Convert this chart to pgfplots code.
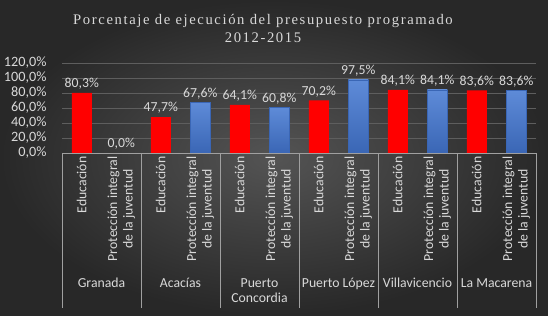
\documentclass[border=0pt]{standalone}
\usepackage{pgfplots}
\pgfplotsset{compat=1.18}
\usepackage{fontspec}
\setmainfont{Carlito}
\newfontfamily\titlefont{Liberation Serif}[LetterSpace=11]
\definecolor{txt}{HTML}{D9D9D9}
\definecolor{gridc}{HTML}{5E5E5E}
\definecolor{sepc}{HTML}{A0A0A0}
\definecolor{rojo}{HTML}{FF0000}
\definecolor{azulT}{HTML}{5E8BD8}
\definecolor{azulB}{HTML}{3A66B5}
\begin{document}
\begin{tikzpicture}[x=1bp,y=1bp]
\shade[inner color={rgb,255:red,84;green,84;blue,84}, outer color={rgb,255:red,40;green,40;blue,40}] (0,0) rectangle (548,315);
\node[txt, anchor=base, inner sep=0, font=\titlefont\fontsize{14.7}{18}\selectfont] at (263,291) {Porcentaje de ejecución del presupuesto programado};
\node[txt, anchor=base, inner sep=0, font=\titlefont\fontsize{14.7}{18}\selectfont] at (263,273) {2012-2015};
\begin{axis}[
  at={(62bp,162bp)}, anchor=south west,
  scale only axis, width=474bp, height=90bp,
  xmin=-0.5, xmax=11.5, ymin=0, ymax=120,
  axis line style={draw=none},
  ytick={0,20,40,60,80,100,120},
  yticklabels={{0,0\%},{20,0\%},{40,0\%},{60,0\%},{80,0\%},{100,0\%},{120,0\%}},
  ymajorgrids, grid style={gridc, line width=0.8bp},
  major tick length=0pt,
  xtick={0,1,2,3,4,5,6,7,8,9,10,11},
  xticklabels={Educación,{Protección integral\\de la juventud},Educación,{Protección integral\\de la juventud},Educación,{Protección integral\\de la juventud},Educación,{Protección integral\\de la juventud},Educación,{Protección integral\\de la juventud},Educación,{Protección integral\\de la juventud}},
  xticklabel style={rotate=90, anchor=east, align=center, text=txt, font=\fontsize{13.8}{15.5}\selectfont},
  yticklabel style={text=txt, font=\fontsize{14.3}{15}\selectfont, xshift=-12bp},
  ybar, bar width=20bp,
  nodes near coords, point meta=explicit symbolic,
  every node near coord/.append style={text=txt, font=\fontsize{13.8}{15}\selectfont},
  clip=false,
]
\addplot[fill=rojo, draw=none, bar shift=0pt] coordinates {(0,80.3) [80,3\%] (2,47.7) [47,7\%] (4,64.1) [64,1\%] (6,70.2) [70,2\%] (8,84.1) [84,1\%] (10,83.6) [83,6\%]};
\addplot[fill=none, draw=none, bar shift=0pt] coordinates {(1,0) [0,0\%]};
\addplot[top color=azulT, bottom color=azulB, draw=azulB, line width=0.4bp, bar shift=0pt] coordinates {(3,67.6) [67,6\%]};
\addplot[top color=azulT, bottom color=azulB, draw=azulB, line width=0.4bp, bar shift=0pt] coordinates {(5,60.8) [60,8\%]};
\addplot[top color=azulT, bottom color=azulB, draw=azulB, line width=0.4bp, bar shift=0pt] coordinates {(7,97.5) [97,5\%]};
\addplot[top color=azulT, bottom color=azulB, draw=azulB, line width=0.4bp, bar shift=0pt] coordinates {(9,84.1) [84,1\%]};
\addplot[top color=azulT, bottom color=azulB, draw=azulB, line width=0.4bp, bar shift=0pt] coordinates {(11,83.6) [83,6\%]};
\draw[sepc, line width=1bp] (axis cs:-0.5,0) -- (axis cs:11.5,0);
\pgfplotsinvokeforeach{-0.5,1.5,3.5,5.5,7.5,9.5,11.5}{\draw[sepc, line width=1bp] (axis cs:#1,0) -- ++(0bp,-155bp);}
\begin{scope}[every node/.style={anchor=north, inner sep=0, text=txt, align=center, font=\fontsize{13.8}{16}\selectfont, yshift=-125bp}]
\node at (axis cs:0.5,0) {Granada};
\node at (axis cs:2.5,0) {Acacías};
\node at (axis cs:4.5,0) {Puerto\\Concordia};
\node at (axis cs:6.5,0) {Puerto López};
\node at (axis cs:8.5,0) {Villavicencio};
\node at (axis cs:10.5,0) {La Macarena};
\end{scope}
\end{axis}
\pgfresetboundingbox
\useasboundingbox (0,0) rectangle (548,315);
\end{tikzpicture}
\end{document}
